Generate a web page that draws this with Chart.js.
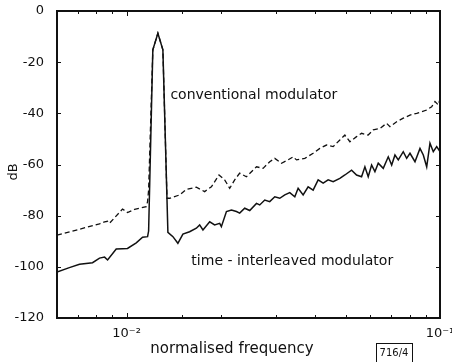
<!DOCTYPE html>
<html>
<head>
<meta charset="utf-8">
<script src="https://cdn.jsdelivr.net/npm/chart.js@4.4.1/dist/chart.umd.min.js"></script>
<style>
  body { margin: 0; background: #fff; }
  #wrap { width: 452px; height: 362px; }
</style>
</head>
<body>
<div id="wrap"><canvas id="spectrumChart"></canvas></div>
<script>
// time-interleaved modulator (solid)
const solidFreq = [0.006, 0.00657, 0.00708, 0.00779, 0.0082, 0.00851, 0.0087, 0.00927, 0.00971, 0.01007,
  0.01074, 0.01125, 0.01167, 0.01176, 0.01213, 0.01259, 0.01306, 0.01355, 0.01406, 0.01458,
  0.01513, 0.01589, 0.0167, 0.01711, 0.01753, 0.01842, 0.0191, 0.01982, 0.02007, 0.02083,
  0.02161, 0.02242, 0.02296, 0.02382, 0.02472, 0.02597, 0.0266, 0.0276, 0.02863, 0.02971,
  0.03082, 0.03198, 0.03317, 0.03442, 0.03527, 0.03659, 0.03796, 0.03938, 0.04086, 0.04239,
  0.04397, 0.04562, 0.04792, 0.04972, 0.05223, 0.05418, 0.05621, 0.0576, 0.05902, 0.06051,
  0.062, 0.06353, 0.06591, 0.06838, 0.07012, 0.07183, 0.0736, 0.07634, 0.07828, 0.08021,
  0.08321, 0.08633, 0.08845, 0.09069, 0.0929, 0.09519, 0.09761, 0.1];
const solidDb = [-102, -100.3, -99, -98.4, -96.6, -96.2, -97.3, -93, -92.9, -92.8,
  -90.6, -88.4, -88.2, -86, -15.2, -8.7, -15.2, -86.5, -88.2, -90.8,
  -87.2, -86.3, -84.9, -83.6, -85.6, -82.4, -83.6, -83, -84.3, -78.4,
  -77.8, -78.4, -79, -77.1, -78, -75.2, -75.8, -73.9, -74.5, -72.6,
  -73.2, -71.9, -71, -72.6, -69.3, -71.9, -68.7, -70, -66, -67.3,
  -66, -66.7, -65.4, -64.1, -62.2, -64.1, -64.8, -60.9, -64.8, -60.2,
  -62.8, -59.5, -61.5, -57, -60.2, -56.3, -58.2, -55, -57.6, -55.6,
  -58.9, -53.7, -56.3, -60.9, -51.7, -55, -53, -55];

// conventional modulator (dashed)
const dashFreq = [0.006, 0.00708, 0.0082, 0.00851, 0.0087, 0.00882, 0.00971, 0.01007, 0.01061, 0.01156,
  0.01167, 0.01176, 0.01213, 0.01259, 0.01306, 0.01346, 0.01372, 0.01476, 0.01551, 0.0167,
  0.01775, 0.01865, 0.01972, 0.02056, 0.02134, 0.02213, 0.02296, 0.02412, 0.02597, 0.02726,
  0.02863, 0.02971, 0.03121, 0.03277, 0.034, 0.03485, 0.03705, 0.03938, 0.04137, 0.04345,
  0.04562, 0.04792, 0.04972, 0.05159, 0.05418, 0.05621, 0.05902, 0.06123, 0.06433, 0.06757,
  0.06923, 0.07273, 0.07634, 0.08021, 0.08427, 0.0874, 0.09069, 0.09408, 0.09639, 0.09876, 0.1];
const dashDb = [-87.6, -85.3, -83.2, -82.4, -82.2, -83, -77.4, -78.8, -77.5, -76.5,
  -74.5, -70, -15.2, -8.7, -15.2, -73.2, -73.2, -71.9, -69.7, -68.9,
  -70.6, -68.7, -64.1, -66, -69.3, -66, -63.4, -64.8, -60.9, -61.5,
  -58.9, -57.6, -59.5, -58.2, -57, -58.2, -57.6, -55.6, -53.7, -52.4,
  -53, -50.4, -48.5, -51.1, -49.1, -47.8, -48.5, -46.5, -45.9, -43.9,
  -45.2, -43.3, -41.9, -40.7, -40, -39.4, -38.7, -37.4, -35.4, -36.7, -34.5];

const xLabelValues = [0.01, 0.1];
const xLabelText = ['10⁻²', '10⁻¹'];

Chart.defaults.font.family = '"DejaVu Sans", sans-serif';
Chart.defaults.font.size = 13;
Chart.defaults.color = '#111';

// box, inward tick marks and the free text of the figure (all filled, no strokes)
const framePlugin = {
  id: 'frame',
  afterDraw(chart) {
    const c = chart.ctx;
    const x = chart.scales.x;
    const y = chart.scales.y;
    const L = Math.round(x.getPixelForValue(0.006));
    const R = Math.round(x.getPixelForValue(0.1));
    const T = Math.round(y.getPixelForValue(0));
    const B = Math.round(y.getPixelForValue(-120));
    c.save();
    c.fillStyle = '#111111';
    c.fillRect(L - 1, T - 1, R - L + 2, 2);
    c.fillRect(L - 1, B - 1, R - L + 2, 2);
    c.fillRect(L - 1, T - 1, 2, B - T + 2);
    c.fillRect(R - 1, T - 1, 2, B - T + 2);

    x.ticks.forEach(t => {
      const px = Math.round(x.getPixelForValue(t.value));
      const len = t.label ? 5 : 3;
      c.fillRect(px, B - len, 1, len);
      c.fillRect(px, T, 1, len);
    });
    y.ticks.forEach(t => {
      const py = Math.round(y.getPixelForValue(t.value));
      c.fillRect(L, py, 4, 1);
      c.fillRect(R - 4, py, 4, 1);
    });

    c.textBaseline = 'middle';
    c.textAlign = 'left';
    c.font = '14px "DejaVu Sans"';
    c.fillText('conventional modulator', x.getPixelForValue(0.0138), y.getPixelForValue(-33));
    c.fillText('time - interleaved modulator', x.getPixelForValue(0.0161), y.getPixelForValue(-98));

    c.textAlign = 'center';
    c.font = '15px "DejaVu Sans"';
    c.fillText('normalised frequency', 232, 349);

    c.save();
    c.translate(14, 172);
    c.rotate(-Math.PI / 2);
    c.font = '13px "DejaVu Sans"';
    c.fillText('dB', 0, 0);
    c.restore();

    c.font = '10px "DejaVu Sans"';
    c.fillText('716/4', 394, 353);
    c.fillRect(376, 343, 1, 19);
    c.fillRect(376, 343, 37, 1);
    c.fillRect(412, 343, 1, 19);
    c.restore();
  }
};

const ctx = document.getElementById('spectrumChart').getContext('2d');
const spectrumChart = new Chart(ctx, {
  type: 'line',
  data: {
    datasets: [{
      label: 'time-interleaved modulator',
      data: solidFreq.map((f, i) => ({ x: f, y: solidDb[i] })),
      borderColor: '#111',
      borderWidth: 1.5,
      pointRadius: 0,
      tension: 0
    }, {
      label: 'conventional modulator',
      data: dashFreq.map((f, i) => ({ x: f, y: dashDb[i] })),
      borderColor: '#111',
      borderWidth: 1.3,
      borderDash: [5, 3],
      pointRadius: 0,
      tension: 0
    }]
  },
  options: {
    responsive: true,
    maintainAspectRatio: false,
    animation: false,
    layout: { padding: { top: 11, right: 12, left: 0, bottom: 0 } },
    plugins: { legend: { display: false }, tooltip: { enabled: false } },
    scales: {
      x: {
        type: 'logarithmic',
        min: 0.006,
        max: 0.1,
        grid: { display: false },
        border: { display: false },
        ticks: {
          autoSkip: false,
          maxRotation: 0,
          padding: 0,
          callback: (value) => {
            const i = xLabelValues.findIndex(v => Math.abs(v - value) / v < 1e-6);
            return i >= 0 ? xLabelText[i] : '';
          }
        },
        afterFit(scale) {
          scale.height = 44;
          scale.paddingLeft = 0;
          scale.paddingRight = 0;
        }
      },
      y: {
        min: -120,
        max: 0,
        grid: { display: false },
        border: { display: false },
        ticks: { stepSize: 20, padding: 5 },
        afterFit(scale) {
          scale.width = 57;
          scale.paddingTop = 0;
          scale.paddingBottom = 0;
        }
      }
    }
  },
  plugins: [framePlugin]
});
</script>
</body>
</html>
